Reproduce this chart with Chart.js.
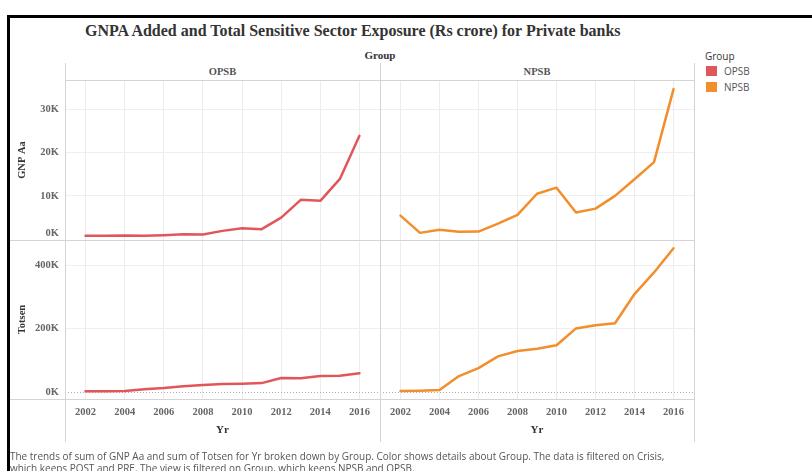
<!DOCTYPE html>
<html>
<head>
<meta charset="utf-8">
<script src="https://cdn.jsdelivr.net/npm/chart.js@4.4.0/dist/chart.umd.min.js"></script>
<style>
  body { margin:0; width:812px; height:471px; overflow:hidden; background:#fff; position:relative; }
  .abs { position:absolute; white-space:nowrap; }
  canvas { position:absolute; }
  .hl { position:absolute; height:1px; background:#d4d4d4; }
  .vl { position:absolute; width:1px; background:#d4d4d4; }
  .serif { font-family:"Liberation Serif", "Times New Roman", serif; font-weight:bold; }
  .sans { font-family:"Open Sans", sans-serif; }
</style>
</head>
<body>
<!-- black frame -->
<div class="abs" style="left:7px;top:15px;width:805px;height:456px;border-left:3px solid #000;border-top:3px solid #000;box-sizing:border-box"></div>

<div class="abs serif" id="title" style="left:85px;top:21px;font-size:16px;line-height:19px;color:#333"></div>
<div class="abs serif" style="left:330px;top:48px;width:100px;text-align:center;font-size:11px;line-height:14px;color:#333">Group</div>
<div class="abs serif" id="hdr0" style="left:65px;top:65px;width:315px;text-align:center;font-size:10.5px;line-height:14px;color:#555"></div>
<div class="abs serif" id="hdr1" style="left:380px;top:65px;width:314px;text-align:center;font-size:10.5px;line-height:14px;color:#555"></div>

<!-- legend -->
<div class="abs sans" style="left:705px;top:50px;font-size:10px;line-height:12px;color:#333">Group</div>
<div id="legend"></div>

<canvas id="tl" width="372" height="160" style="left:8px;top:80px"></canvas>
<canvas id="tr" width="314" height="160" style="left:380px;top:80px"></canvas>
<canvas id="bl" width="372" height="210" style="left:8px;top:240px"></canvas>
<canvas id="br" width="314" height="210" style="left:380px;top:240px"></canvas>

<!-- panel rules -->
<div class="hl" style="left:65px;top:80px;width:629px"></div>
<div class="hl" style="left:10px;top:240px;width:684px"></div>
<div class="hl" style="left:10px;top:399px;width:684px"></div>
<div class="vl" style="left:65px;top:63px;height:379px"></div>
<div class="vl" style="left:380px;top:63px;height:379px"></div>
<div class="vl" style="left:694px;top:63px;height:379px"></div>

<div class="abs sans" id="foot1" style="left:10px;top:450px;font-size:10px;line-height:12px;color:#555;transform-origin:left top"></div>
<div class="abs sans" id="foot2" style="left:10px;top:462px;font-size:10px;line-height:12px;color:#555;transform-origin:left top"></div>

<script>
var chartTitle = 'GNPA Added and Total Sensitive Sector Exposure (Rs crore) for Private banks';
var groups = ['OPSB', 'NPSB'];
var groupColors = ['#e15759', '#f28e2b'];
var years = [2002, 2003, 2004, 2005, 2006, 2007, 2008, 2009, 2010, 2011, 2012, 2013, 2014, 2015, 2016];
var yearTicks = [2002, 2004, 2006, 2008, 2010, 2012, 2014, 2016];

// GNP Aa (GNPA added)
var gnpOPSB = [760, 760, 830, 760, 920, 1150, 1060, 1910, 2530, 2300, 4980, 9080, 8850, 13930, 23900];
var gnpNPSB = [5450, 1450, 2150, 1700, 1750, 3600, 5600, 10500, 11900, 6150, 7050, 10000, 13850, 17800, 34700];
// Totsen (total sensitive sector exposure)
var totOPSB = [3000, 3500, 4500, 10000, 13500, 19000, 23000, 26000, 27000, 29000, 45000, 44000, 51000, 52000, 60000];
var totNPSB = [4000, 5000, 7000, 51000, 76000, 113000, 130000, 137000, 148000, 201000, 211000, 217000, 309000, 377000, 453000];

var gnpTicks = [0, 10000, 20000, 30000];
var totTicks = [0, 200000, 400000];

var footLines = [
  'The trends of sum of GNP Aa and sum of Totsen for Yr broken down by Group.  Color shows details about Group. The data is filtered on Crisis,',
  'which keeps POST and PRE. The view is filtered on Group, which keeps NPSB and OPSB.'
];

document.getElementById('title').textContent = chartTitle;
document.getElementById('hdr0').textContent = groups[0];
document.getElementById('hdr1').textContent = groups[1];

// legend
var leg = document.getElementById('legend');
groups.forEach(function(g, i) {
  var sw = document.createElement('div');
  sw.className = 'abs';
  sw.style.cssText = 'left:706px;top:' + (66 + i * 15.5) + 'px;width:11px;height:10px;background:' + groupColors[i];
  leg.appendChild(sw);
  var tx = document.createElement('div');
  tx.className = 'abs sans';
  tx.style.cssText = 'left:724px;top:' + (65 + i * 15.5) + 'px;font-size:10px;line-height:12px;color:#555';
  tx.textContent = g;
  leg.appendChild(tx);
});

// footer, squeezed to the width seen in the picture
var mctx = document.createElement('canvas').getContext('2d');
mctx.font = '10px "Open Sans"';
var sx = 657 / mctx.measureText(footLines[0]).width;
['foot1', 'foot2'].forEach(function(id, i) {
  var el = document.getElementById(id);
  el.textContent = footLines[i];
  el.style.transform = 'scaleX(' + sx + ')';
});

var serif = 'Liberation Serif';

// dotted zero line (bottom row)
var zeroLine = {
  id: 'zeroLine',
  beforeDatasetsDraw: function(chart, args, opts) {
    if (!opts.show) return;
    var c = chart.ctx, a = chart.chartArea;
    var y = Math.round(chart.scales.y.getPixelForValue(0)) + 0.5;
    c.save();
    c.strokeStyle = '#b0b0b0';
    c.lineWidth = 1;
    c.setLineDash([1, 2]);
    c.beginPath();
    c.moveTo(a.left, y);
    c.lineTo(a.right, y);
    c.stroke();
    c.restore();
  }
};

function kLabel(v) { return (v / 1000) + 'K'; }

// keep each panel's plot area exactly on the panel box
function noPad(s) {
  s.paddingTop = 0; s.paddingBottom = 0; s.paddingLeft = 0; s.paddingRight = 0;
}

function makePanel(id, values, color, yTicks, yMin, yMax, showY, showX, yTitle, topRow) {
  return new Chart(document.getElementById(id), {
    type: 'line',
    data: {
      datasets: [{
        data: years.map(function(y, i) { return { x: y, y: values[i] }; }),
        borderColor: color,
        borderWidth: 2.5,
        pointRadius: 0,
        tension: 0,
        fill: false,
        borderJoinStyle: 'round',
        borderCapStyle: 'round'
      }]
    },
    options: {
      responsive: false,
      animation: false,
      events: [],
      layout: { padding: 0 },
      plugins: {
        legend: { display: false },
        tooltip: { enabled: false },
        zeroLine: { show: !topRow }
      },
      scales: {
        x: {
          type: 'linear',
          min: 2000.95,
          max: 2017.05,
          afterBuildTicks: function(s) { s.ticks = yearTicks.map(function(v) { return { value: v }; }); },
          afterFit: function(s) { s.height = showX ? 51 : 0; noPad(s); },
          grid: { color: '#ececec', drawTicks: false },
          border: { display: false },
          ticks: {
            display: showX, padding: 7, color: '#666', autoSkip: false, maxRotation: 0,
            font: { family: serif, weight: 'bold', size: 10.5 },
            callback: function(v) { return String(v); }
          },
          title: {
            display: showX, text: 'Yr', color: '#333', padding: { top: 0, bottom: 13 },
            font: { family: serif, weight: 'bold', size: 11 }
          }
        },
        y: {
          min: yMin,
          max: yMax,
          afterBuildTicks: function(s) { s.ticks = yTicks.map(function(v) { return { value: v }; }); },
          afterFit: function(s) { s.width = showY ? 57 : 0; noPad(s); },
          grid: {
            drawTicks: false,
            color: function(ctx) { return ctx.tick && ctx.tick.value === 0 ? 'rgba(0,0,0,0)' : '#efefef'; }
          },
          border: { display: false },
          ticks: {
            display: showY, padding: 6, color: '#666',
            font: { family: serif, weight: 'bold', size: 10.5 },
            callback: function(v) {
              // the top row's 0K label sits above the panel edge
              if (topRow && v === 0) return [kLabel(v), ''];
              return kLabel(v);
            }
          },
          title: {
            display: showY, text: yTitle, color: '#333', padding: { top: 8, bottom: 0 },
            font: { family: serif, weight: 'bold', size: 10.5 }
          }
        }
      }
    },
    plugins: [zeroLine]
  });
}

makePanel('tl', gnpOPSB, groupColors[0], gnpTicks, -200, 36800, true, false, 'GNP Aa', true);
makePanel('tr', gnpNPSB, groupColors[1], gnpTicks, -200, 36800, false, false, '', true);
makePanel('bl', totOPSB, groupColors[0], totTicks, -21000, 479000, true, true, 'Totsen', false);
makePanel('br', totNPSB, groupColors[1], totTicks, -21000, 479000, false, true, '', false);
</script>
</body>
</html>
